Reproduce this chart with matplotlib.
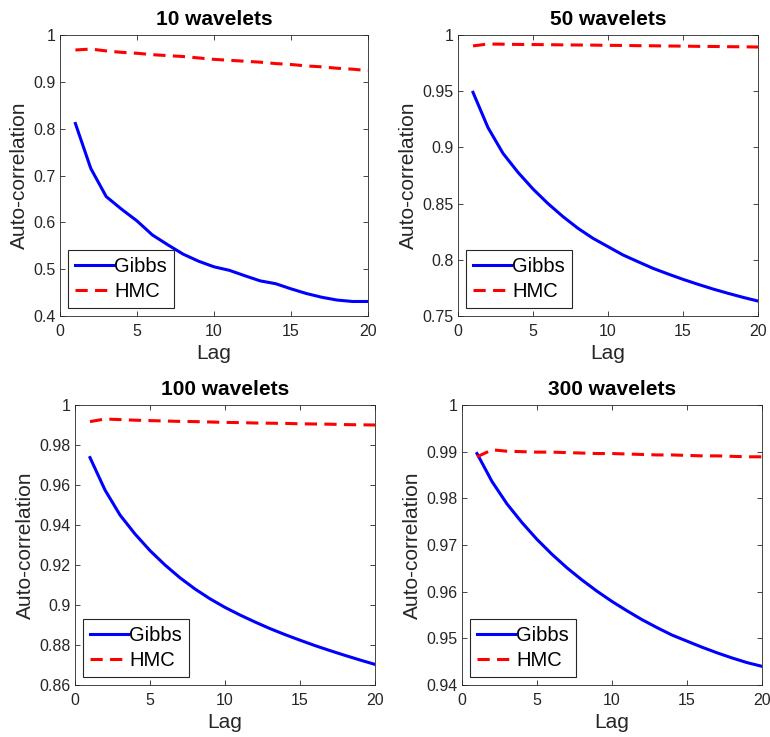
import numpy as np
import matplotlib.pyplot as plt

plt.rcParams['font.family'] = ['Liberation Sans', 'DejaVu Sans']

lags = list(range(1, 21))
titles = ['10 wavelets', '50 wavelets', '100 wavelets', '300 wavelets']

gibbs_10 = [0.811, 0.715, 0.655, 0.628, 0.603, 0.573, 0.552, 0.532, 0.517, 0.505,
            0.4975, 0.486, 0.475, 0.469, 0.458, 0.448, 0.440, 0.434, 0.431, 0.431]
hmc_10 = [0.968, 0.970, 0.966, 0.963, 0.961, 0.958, 0.956, 0.954, 0.951, 0.948,
          0.946, 0.944, 0.942, 0.939, 0.937, 0.934, 0.932, 0.929, 0.927, 0.924]

gibbs_50 = [0.949, 0.9176, 0.8947, 0.8778, 0.863, 0.850, 0.8384, 0.828, 0.8191, 0.8117,
            0.8043, 0.7983, 0.7924, 0.7874, 0.7826, 0.7782, 0.774, 0.7702, 0.7666, 0.7633]
hmc_50 = [0.9903, 0.992, 0.9918, 0.9916, 0.9915, 0.9914, 0.9912, 0.9911, 0.991, 0.9908,
          0.9907, 0.9905, 0.9904, 0.9902, 0.9901, 0.9899, 0.9898, 0.9896, 0.9895, 0.9893]

gibbs_100 = [0.9737, 0.9575, 0.9450, 0.9355, 0.9272, 0.9200, 0.9136, 0.9080, 0.9031, 0.8988,
             0.8950, 0.8915, 0.8882, 0.8852, 0.8824, 0.8797, 0.8772, 0.8748, 0.8725, 0.8703]
hmc_100 = [0.9917, 0.993, 0.9927, 0.9924, 0.9922, 0.992, 0.9918, 0.9917, 0.9915, 0.9913,
           0.9912, 0.991, 0.9909, 0.9908, 0.9906, 0.9905, 0.9904, 0.9902, 0.9901, 0.990]

gibbs_300 = [0.9896, 0.9836, 0.9788, 0.9748, 0.9712, 0.9680, 0.9651, 0.9625, 0.9601, 0.9579,
             0.9559, 0.9540, 0.9523, 0.9507, 0.9494, 0.9481, 0.9469, 0.9458, 0.9448, 0.9440]
hmc_300 = [0.9889, 0.9904, 0.9901, 0.9900, 0.9899, 0.9899, 0.9898, 0.9897, 0.9896, 0.9896,
           0.9895, 0.9894, 0.9893, 0.9893, 0.9892, 0.9891, 0.9891, 0.9890, 0.9889, 0.9889]

gibbs_all = [gibbs_10, gibbs_50, gibbs_100, gibbs_300]
hmc_all = [hmc_10, hmc_50, hmc_100, hmc_300]

ylims = [(0.4, 1.0), (0.75, 1.0), (0.86, 1.0), (0.94, 1.0)]
yticks = [np.arange(0.4, 1.001, 0.1), np.arange(0.75, 1.001, 0.05),
          np.arange(0.86, 1.001, 0.02), np.arange(0.94, 1.001, 0.01)]
ytick_labels = [['0.4', '0.5', '0.6', '0.7', '0.8', '0.9', '1'],
                ['0.75', '0.8', '0.85', '0.9', '0.95', '1'],
                ['0.86', '0.88', '0.9', '0.92', '0.94', '0.96', '0.98', '1'],
                ['0.94', '0.95', '0.96', '0.97', '0.98', '0.99', '1']]

# axes positions in pixels (left, top, right, bottom) on a 770x737 canvas
W, H = 770, 737
boxes = [(60, 35, 368, 316), (458, 35, 758, 316),
         (75, 405, 375, 685), (462, 405, 762, 685)]

fig = plt.figure(figsize=(7.7, 7.37), dpi=100)
grey = '#262626'

for i in range(4):
    l, t, r, b = boxes[i]
    ax = fig.add_axes([l / W, 1 - b / H, (r - l) / W, (b - t) / H])
    ax.plot(lags, gibbs_all[i], color='#0000ff', lw=2.2, label='Gibbs')
    ax.plot(lags, hmc_all[i], color='#ff0000', lw=2.2, ls=(0, (4, 2.4)), label='HMC')
    ax.set_xlim(0, 20)
    ax.set_ylim(*ylims[i])
    ax.set_xticks([0, 5, 10, 15, 20])
    ax.set_yticks(yticks[i])
    ax.set_yticklabels(ytick_labels[i])
    ax.tick_params(direction='in', top=True, right=True, length=3.5, width=0.6,
                   colors=grey, labelsize=11.5)
    ax.tick_params(axis='x', pad=6)
    ax.tick_params(axis='y', pad=3)
    for s in ax.spines.values():
        s.set_color(grey)
        s.set_linewidth(0.6)
    ax.set_title(titles[i], fontsize=15, fontweight='bold', pad=7)
    ax.set_xlabel('Lag', fontsize=15, color=grey, labelpad=3)
    ax.set_ylabel('Auto-correlation', fontsize=15, color=grey, labelpad=3)
    leg = ax.legend(loc='lower left', fontsize=14.5, handlelength=1.9,
                    handletextpad=0.05, borderpad=0.35, labelspacing=0.3,
                    fancybox=False, framealpha=1, borderaxespad=0.4)
    leg.get_frame().set_edgecolor(grey)
    leg.get_frame().set_linewidth(0.8)

fig.savefig('out.png', dpi=100)
